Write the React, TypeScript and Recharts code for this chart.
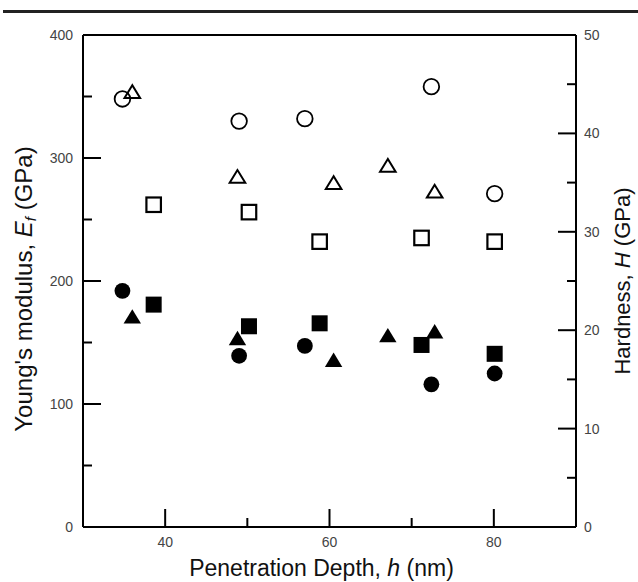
import React from "react"
import { ScatterChart, Scatter, XAxis, YAxis, Label } from "recharts"

// penetration depth (nm) for each sample
const circleDepth = [34.8, 49.0, 57.0, 72.4, 80.1]
const triangleDepth = [36.0, 48.8, 60.5, 67.1, 72.8]
const squareDepth = [38.6, 50.2, 58.8, 71.2, 80.1]

// Young's modulus (GPa), open symbols, left axis
const circleModulus = [348, 330, 332, 358, 271]
const triangleModulus = [354, 285, 280, 294, 273]
const squareModulus = [262, 256, 232, 235, 232]

// hardness (GPa), filled symbols, right axis
const circleHardness = [24.0, 17.4, 18.4, 14.5, 15.6]
const triangleHardness = [21.4, 19.2, 17.0, 19.5, 19.9]
const squareHardness = [22.6, 20.4, 20.7, 18.5, 17.6]

const leftTicks = [0, 50, 100, 150, 200, 250, 300, 350, 400]
const rightTicks = [0, 5, 10, 15, 20, 25, 30, 35, 40, 45, 50]
const bottomTicks = [40, 50, 60, 70, 80]
const topTicks = [1, 2, 3, 4, 5, 6]

const toPoints = (xs: number[], ys: number[]) => xs.map((x, i) => ({ x, y: ys[i] }))

const FONT = "'Liberation Sans', Arial, sans-serif"
const TICK_COLOR = "#444"
const axisLine = { stroke: "#000", strokeWidth: 2 }

function Marker({ cx, cy, kind, filled }: any) {
  if (cx == null || cy == null) return null
  const fill = filled ? "#000" : "none"
  const sw = filled ? 0 : 1.8
  if (kind === "circle") {
    return <circle cx={cx} cy={cy} r={filled ? 7.9 : 7.8} fill={fill} stroke="#000" strokeWidth={sw} />
  }
  if (kind === "square") {
    const s = filled ? 16 : 14.5
    return <rect x={cx - s / 2} y={cy - s / 2} width={s} height={s} fill={fill} stroke="#000" strokeWidth={filled ? 0 : 2.2} />
  }
  const hw = filled ? 8.7 : 7.8
  const hh = filled ? 7.2 : 6.4
  const pts = `${cx},${cy - hh} ${cx - hw},${cy + hh} ${cx + hw},${cy + hh}`
  return <polygon points={pts} fill={fill} stroke="#000" strokeWidth={filled ? 0 : 2} strokeLinejoin="miter" />
}

function LeftTick({ x, y, payload }: any) {
  const major = payload.value % 100 === 0
  return (
    <g>
      <line x1={x} x2={x + (major ? 18 : 9)} y1={y} y2={y} stroke="#000" strokeWidth={2} />
      {major && (
        <text x={x - 10} y={y} dy={5} textAnchor="end" fontSize={14} fontFamily={FONT} fill={TICK_COLOR}>
          {payload.value}
        </text>
      )}
    </g>
  )
}

function RightTick({ x, y, payload }: any) {
  const major = payload.value % 10 === 0
  return (
    <g>
      <line x1={x} x2={x - (major ? 18 : 9)} y1={y} y2={y} stroke="#000" strokeWidth={2} />
      {major && (
        <text x={x + 8} y={y} dy={5} textAnchor="start" fontSize={14} fontFamily={FONT} fill={TICK_COLOR}>
          {payload.value}
        </text>
      )}
    </g>
  )
}

function BottomTick({ x, y, payload }: any) {
  const major = payload.value % 20 === 0
  return (
    <g>
      <line x1={x} x2={x} y1={y} y2={y - (major ? 18 : 9)} stroke="#000" strokeWidth={2} />
      {major && (
        <text x={x} y={y + 20} textAnchor="middle" fontSize={14} fontFamily={FONT} fill={TICK_COLOR}>
          {payload.value}
        </text>
      )}
    </g>
  )
}

function TopTick({ x, y, payload }: any) {
  const major = payload.value % 2 === 0
  return <line x1={x} x2={x} y1={y} y2={y + (major ? 18 : 9)} stroke="#000" strokeWidth={2} />
}

export default function App() {
  return (
    <div style={{ position: "absolute", left: 0, top: 0, width: 638, height: 582, background: "#fff" }}>
      <div style={{ position: "absolute", left: 3, top: 10, width: 635, height: 3, background: "#222" }} />
      <ScatterChart width={638} height={582} margin={{ top: 34, right: 61, bottom: 54, left: 82 }}>
        <XAxis
          xAxisId="b"
          dataKey="x"
          type="number"
          domain={[30, 90]}
          ticks={bottomTicks}
          interval={0}
          height={1}
          tickSize={0}
          tickMargin={0}
          tickLine={false}
          axisLine={axisLine}
          tick={(p: any) => <BottomTick {...p} />}
        >
          <Label
            content={({ viewBox }: any) => (
              <text x={viewBox.x + viewBox.width / 2 - 8} y={576} textAnchor="middle" fontSize={23} fontFamily={FONT} fill="#111">
                Penetration Depth, <tspan fontStyle="italic">h</tspan> (nm)
              </text>
            )}
          />
        </XAxis>
        <XAxis
          xAxisId="t"
          orientation="top"
          type="number"
          domain={[0, 7]}
          ticks={topTicks}
          interval={0}
          height={1}
          tickSize={0}
          tickMargin={0}
          tickLine={false}
          axisLine={axisLine}
          allowDataOverflow
          tick={(p: any) => <TopTick {...p} />}
        />
        <YAxis
          yAxisId="l"
          dataKey="y"
          type="number"
          domain={[0, 400]}
          ticks={leftTicks}
          interval={0}
          width={1}
          tickSize={0}
          tickMargin={0}
          tickLine={false}
          axisLine={axisLine}
          tick={(p: any) => <LeftTick {...p} />}
        >
          <Label
            content={({ viewBox }: any) => {
              const tx = viewBox.x + viewBox.width - 51
              const ty = viewBox.y + viewBox.height / 2 + 8
              return (
                <text x={tx} y={ty} transform={`rotate(-90 ${tx} ${ty})`} textAnchor="middle" fontSize={24} fontFamily={FONT} fill="#111">
                  Young's modulus, <tspan fontStyle="italic">E</tspan>
                  <tspan fontStyle="italic" fontSize={15} dy={4}>f</tspan>
                  <tspan dy={-4}> (GPa)</tspan>
                </text>
              )
            }}
          />
        </YAxis>
        <YAxis
          yAxisId="r"
          orientation="right"
          dataKey="y"
          type="number"
          domain={[0, 50]}
          ticks={rightTicks}
          interval={0}
          width={1}
          tickSize={0}
          tickMargin={0}
          tickLine={false}
          axisLine={axisLine}
          tick={(p: any) => <RightTick {...p} />}
        >
          <Label
            content={({ viewBox }: any) => {
              const tx = viewBox.x + 54
              const ty = viewBox.y + viewBox.height / 2
              return (
                <text x={tx} y={ty} transform={`rotate(-90 ${tx} ${ty})`} textAnchor="middle" fontSize={22} fontFamily={FONT} fill="#111">
                  Hardness, <tspan fontStyle="italic">H</tspan> (GPa)
                </text>
              )
            }}
          />
        </YAxis>

        <Scatter xAxisId="b" yAxisId="l" data={toPoints(circleDepth, circleModulus)} isAnimationActive={false} shape={(p: any) => <Marker {...p} kind="circle" />} />
        <Scatter xAxisId="b" yAxisId="l" data={toPoints(triangleDepth, triangleModulus)} isAnimationActive={false} shape={(p: any) => <Marker {...p} kind="triangle" />} />
        <Scatter xAxisId="b" yAxisId="l" data={toPoints(squareDepth, squareModulus)} isAnimationActive={false} shape={(p: any) => <Marker {...p} kind="square" />} />
        <Scatter xAxisId="b" yAxisId="r" data={toPoints(circleDepth, circleHardness)} isAnimationActive={false} shape={(p: any) => <Marker {...p} kind="circle" filled />} />
        <Scatter xAxisId="b" yAxisId="r" data={toPoints(triangleDepth, triangleHardness)} isAnimationActive={false} shape={(p: any) => <Marker {...p} kind="triangle" filled />} />
        <Scatter xAxisId="b" yAxisId="r" data={toPoints(squareDepth, squareHardness)} isAnimationActive={false} shape={(p: any) => <Marker {...p} kind="square" filled />} />
      </ScatterChart>
    </div>
  )
}
